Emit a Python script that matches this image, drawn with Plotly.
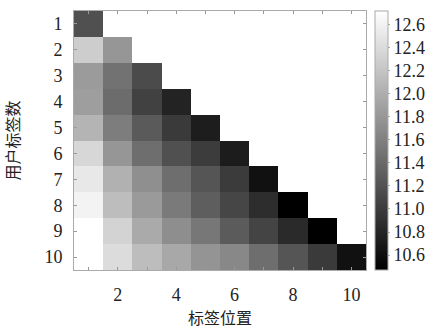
import plotly.graph_objects as go

positions = [1, 2, 3, 4, 5, 6, 7, 8, 9, 10]
user_tag_counts = [1, 2, 3, 4, 5, 6, 7, 8, 9, 10]

row1 = [11.18]
row2 = [12.28, 11.79]
row3 = [11.84, 11.48, 11.13]
row4 = [11.86, 11.42, 11.04, 10.78]
row5 = [12.06, 11.57, 11.26, 10.98, 10.73]
row6 = [12.37, 11.79, 11.44, 11.18, 11.00, 10.72]
row7 = [12.52, 12.03, 11.73, 11.44, 11.22, 10.99, 10.62]
row8 = [12.61, 12.14, 11.83, 11.55, 11.30, 11.09, 10.87, 10.47]
row9 = [12.72, 12.33, 11.97, 11.72, 11.52, 11.27, 11.07, 10.84, 10.47]
row10 = [12.72, 12.41, 12.14, 11.95, 11.78, 11.67, 11.44, 11.22, 10.98, 10.62]

rows = [row1, row2, row3, row4, row5, row6, row7, row8, row9, row10]
z = [r + [None] * (10 - len(r)) for r in rows]

colorbar_ticks = [10.6, 10.8, 11.0, 11.2, 11.4, 11.6, 11.8, 12.0, 12.2, 12.4, 12.6]

font_family = "Liberation Serif"
cjk_family = "Noto Sans CJK SC"

fig = go.Figure(go.Heatmap(
    x=positions, y=user_tag_counts, z=z,
    colorscale=[[0, "#000000"], [1, "#ffffff"]],
    zmin=10.47, zmax=12.72,
    hoverongaps=False,
    colorbar=dict(
        x=1.031, xanchor="left", xref="paper",
        y=0.5, yanchor="middle", len=1.0, lenmode="fraction",
        thickness=13, outlinewidth=1, outlinecolor="#aaaaaa",
        tickvals=colorbar_ticks, ticktext=[f"{v:.1f}" for v in colorbar_ticks],
        ticks="outside", ticklen=2, tickcolor="#aaaaaa",
        tickfont=dict(family=font_family, size=18, color="#222222"),
        ypad=0, xpad=0,
    ),
))

fig.update_layout(
    width=429, height=331,
    margin=dict(l=74, r=63, t=11, b=61, autoexpand=False),
    paper_bgcolor="white", plot_bgcolor="white",
    font=dict(family=font_family, size=18, color="#222222"),
    xaxis=dict(
        range=[0.5, 10.5], tickvals=[2, 4, 6, 8, 10],
        ticks="inside", ticklen=3, tickcolor="#999999",
        minor=dict(tickvals=[1, 3, 5, 7, 9], ticks="inside", ticklen=3, tickcolor="#999999"),
        showline=True, linecolor="#aaaaaa", linewidth=1, mirror="ticks",
        showgrid=False, zeroline=False,
        ticklabelstandoff=8,
        tickfont=dict(family=font_family, size=18),
        title=dict(text="标签位置", font=dict(family=cjk_family, size=16), standoff=9),
    ),
    yaxis=dict(
        range=[10.5, 0.5], tickvals=user_tag_counts,
        ticks="inside", ticklen=3, tickcolor="#999999",
        showline=True, linecolor="#aaaaaa", linewidth=1, mirror="ticks",
        showgrid=False, zeroline=False,
        ticklabelstandoff=7,
        tickfont=dict(family=font_family, size=18),
        title=dict(text="用户标签数", font=dict(family=cjk_family, size=16), standoff=24),
    ),
)

fig.write_html(
    "out.html",
    config={"displayModeBar": False},
    post_script="document.body.style.margin='0';document.body.style.overflow='hidden';",
)
